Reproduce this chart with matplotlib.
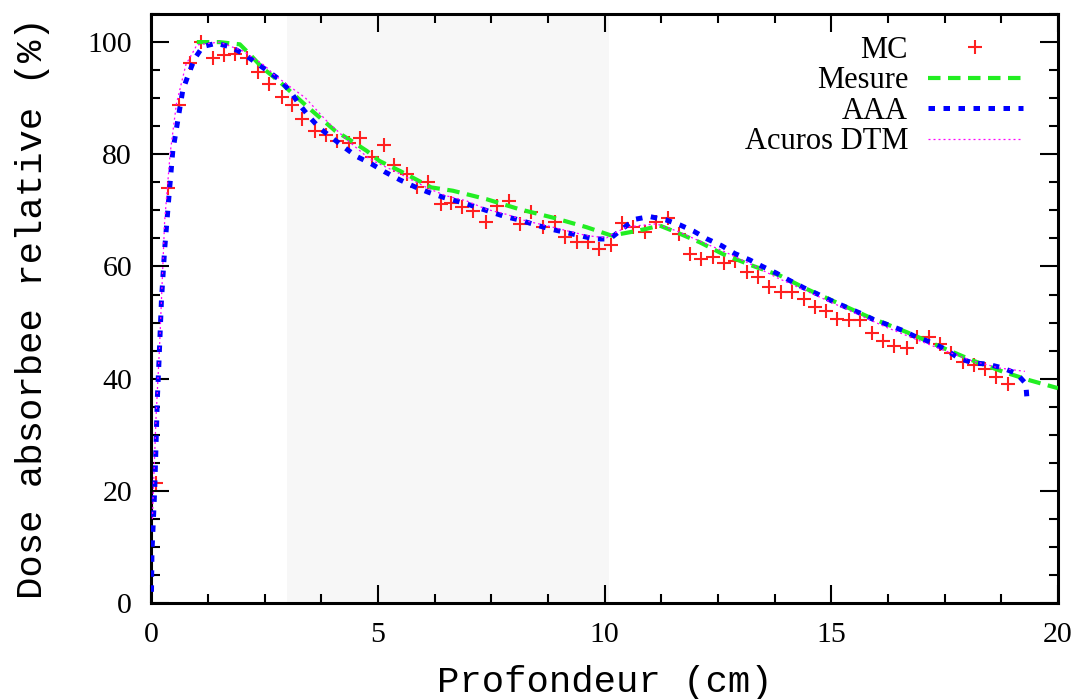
import matplotlib
matplotlib.use("Agg")
import matplotlib.pyplot as plt
from matplotlib.ticker import MultipleLocator

# MC points
mc_x = [0.1, 0.36, 0.6, 0.84, 1.1, 1.35, 1.59, 1.85, 2.1, 2.34, 2.6, 2.87, 3.1, 3.33, 3.6,
        3.86, 4.1, 4.35, 4.59, 4.87, 5.12, 5.36, 5.64, 5.86, 6.11, 6.39, 6.61, 6.85, 7.1, 7.37,
        7.62, 7.88, 8.12, 8.37, 8.63, 8.9, 9.13, 9.38, 9.62, 9.87, 10.13, 10.37, 10.62, 10.88, 11.14,
        11.4, 11.64, 11.88, 12.13, 12.39, 12.63, 12.87, 13.13, 13.38, 13.63, 13.89, 14.13, 14.39, 14.64, 14.89,
        15.13, 15.39, 15.64, 15.9, 16.15, 16.39, 16.66, 16.89, 17.15, 17.4, 17.64, 17.91, 18.15, 18.39, 18.64,
        18.9]
mc_y = [21.4, 74, 88.7, 96.3, 100, 97.2, 97.7, 97.9, 97.1, 94.6, 92.6, 90.3, 88.7, 86.3, 84.2,
        83.4, 82.4, 82.1, 82.9, 79.5, 81.7, 78.1, 76.5, 74.2, 75.0, 71.2, 71.4, 70.6, 69.8, 67.9,
        70.8, 71.6, 67.6, 69.7, 67.0, 67.9, 65.2, 64.3, 64.3, 63.2, 63.9, 67.7, 67.1, 66.1, 68.0,
        68.6, 65.8, 62.3, 61.3, 61.6, 60.6, 60.9, 59.0, 58.2, 56.4, 55.5, 55.5, 54.2, 52.8, 52.1,
        50.6, 50.4, 50.4, 48.1, 46.7, 45.9, 45.5, 47.4, 47.5, 46.1, 44.5, 43.0, 42.5, 41.8, 40.3,
        39.1]

# Mesure
mes_x = [1.0, 1.5, 1.95, 2.16, 2.45, 2.83, 3.45, 4.05, 4.41, 4.75, 5.03, 5.49, 6.17, 6.65, 7.39, 8.12,
         8.86, 9.6, 10.15, 10.55, 10.92, 11.21, 11.58, 12.1, 12.61, 13.27, 13.86, 14.45, 15.19, 15.85,
         16.66, 17.4, 18.13, 18.8, 19.38, 20.0]
mes_y = [100, 100, 99.6, 97.9, 95.4, 92.9, 88.4, 84.2, 82.4, 80.6, 78.8, 77.0, 74.1, 73.5, 72.0, 70.2,
         68.7, 67.0, 65.5, 66.1, 66.7, 67.3, 66.1, 64.3, 62.2, 60.1, 58.4, 56.0, 53.3, 50.9,
         48.3, 45.7, 43.2, 41.2, 39.7, 38.3]

# AAA
aaa_x = [0.0, 0.01, 0.04, 0.07, 0.09, 0.11, 0.13, 0.16, 0.22, 0.29, 0.37, 0.47, 0.58, 0.69, 0.8,
         0.95, 1.13, 1.43, 1.76, 2.05, 2.31, 2.59, 2.86, 3.08, 3.27, 3.49, 3.72, 3.99, 4.26, 4.53,
         4.83, 5.14, 5.49, 5.81, 6.12, 6.45, 6.76, 7.09, 7.42, 7.76, 8.11, 8.48, 8.79, 9.12, 9.45,
         9.78, 10.11, 10.39, 10.66, 10.99, 11.35, 11.66, 11.96, 12.26, 12.58, 12.87, 13.19, 13.48, 13.79, 14.08,
         14.39, 14.69, 15.0, 15.31, 15.63, 15.94, 16.25, 16.57, 16.88, 17.19, 17.5, 17.8, 18.12, 18.44, 18.78,
         19.09, 19.29, 19.32]
aaa_y = [2, 9, 14.5, 20, 25.4, 31, 36.6, 42, 54, 63, 71, 80.6, 86, 91.4, 93.9,
         97, 99.2, 99.8, 99.1, 97.8, 96.3, 94.7, 93.1, 91, 88.8, 86.6, 84.6, 82.9, 81.2, 79.6,
         78.4, 76.9, 75.4, 74.2, 73.2, 72.3, 71.6, 70.8, 69.9, 69.0, 68.3, 67.4, 66.7, 66.1, 65.5,
         64.9, 64.9, 66.7, 68.4, 68.9, 68.3, 67.4, 66.3, 64.9, 63.7, 62.3, 61.2, 60.0, 58.8, 57.5,
         56.2, 55.1, 53.9, 52.8, 51.7, 50.5, 49.6, 48.6, 47.4, 46.5, 45.3, 43.7, 42.8, 42.6, 41.9,
         40.9, 39.1, 36.0]

# Acuros DTM
acu_x = [0.02, 0.05, 0.1, 0.18, 0.29, 0.41, 0.55, 0.76, 0.95, 1.0, 1.5, 2.02, 2.5, 2.69, 2.98,
         3.39, 3.87, 4.34, 4.82, 5.49, 5.77, 6.14, 6.5, 6.95, 7.39, 7.83, 8.27, 8.71, 9.15,
         9.6, 10.04, 10.18, 10.48, 10.77, 11.14, 11.6, 12.1, 12.6, 13.2, 13.8, 14.4, 15.0, 15.6, 16.2,
         16.9, 17.5, 18.1, 18.7, 19.27]
acu_y = [15, 22, 33, 46, 68, 80, 89, 96, 98.7, 99.5, 100, 98.4, 95.8, 94.3, 92.5,
         90.1, 85.9, 82.4, 79.1, 76.5, 75.3, 73.8, 72.6, 71.7, 70.2, 69.3, 68.1, 67.3, 66.4,
         65.5, 65.1, 65.8, 67.0, 67.3, 67.6, 66.3, 64.5, 62.8, 60.5, 58.0, 55.8, 53.6, 51.4, 49.2,
         46.9, 45.0, 43.2, 41.9, 41.3]

fig = plt.figure(figsize=(10.82, 6.99), dpi=100)
ax = fig.add_axes([0.140, 0.1373, 0.8378, 0.8426])

ax.axvspan(3.0, 10.1, color="#f7f7f7", lw=0, zorder=0)

ax.plot(mc_x, mc_y, "+", color="#ff2020", ms=10, mew=1.5, label="MC", zorder=2)
ax.plot(mes_x, mes_y, color="#22ee22", lw=3, dashes=(3, 1.8), label="Mesure", zorder=3)
ax.plot(aaa_x, aaa_y, color="#0000ff", lw=3.6, dashes=(1.3, 1.7), label="AAA", zorder=4)
ax.plot(acu_x, acu_y, color="#ff00ff", lw=0.9, dashes=(1.6, 2.4), label="Acuros DTM", zorder=5)

ax.set_xlim(0, 20)
ax.set_ylim(0, 105)
ax.xaxis.set_major_locator(MultipleLocator(5))
ax.xaxis.set_minor_locator(MultipleLocator(1.25))
ax.yaxis.set_major_locator(MultipleLocator(20))
ax.yaxis.set_minor_locator(MultipleLocator(5))
ax.tick_params(which="both", direction="in", top=True, right=True, width=1.5, color="black")
ax.tick_params(which="major", length=13)
ax.tick_params(which="minor", length=6.5)
ax.tick_params(axis="x", pad=14)
ax.tick_params(axis="y", pad=14)
for lab in ax.get_xticklabels() + ax.get_yticklabels():
    lab.set_fontfamily("Liberation Serif")
    lab.set_fontsize(21.5)
for s in ax.spines.values():
    s.set_linewidth(2.2)

ax.set_xlabel("Profondeur (cm)", fontfamily="Liberation Mono", fontsize=26.8, labelpad=12)
ax.set_ylabel("Dose absorbee relative (%)", fontfamily="Liberation Mono", fontsize=26.8, labelpad=27)

leg = ax.legend(loc="upper right", bbox_to_anchor=(0.961, 0.963), frameon=False, markerfirst=False,
                prop={"family": "Liberation Serif", "size": 22}, handlelength=3.1,
                handletextpad=0.65, labelspacing=0.05, borderpad=0, borderaxespad=0)

fig.savefig("out.png", dpi=100)
